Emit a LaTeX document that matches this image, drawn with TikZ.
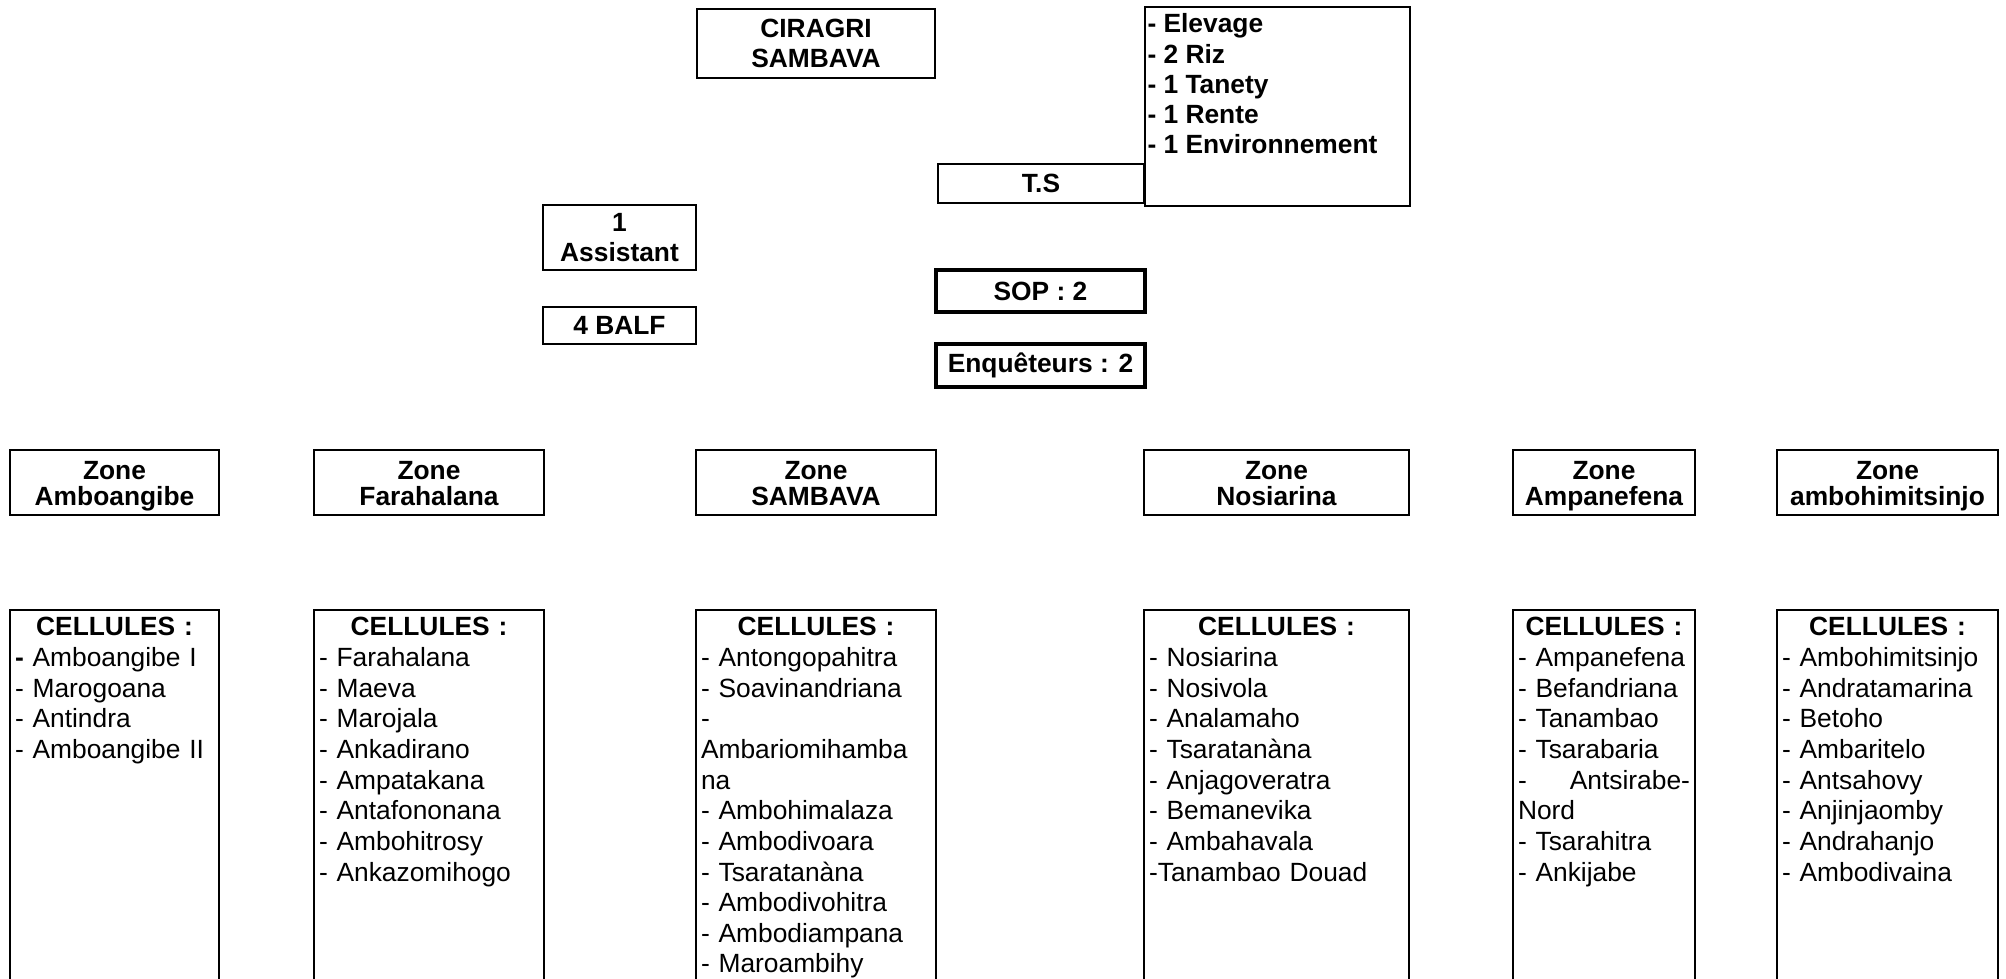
\documentclass[tikz,border=0pt]{standalone}
\usepackage{fontspec}
\setmainfont{Liberation Sans}
\usetikzlibrary{positioning}
% texte des zones, place comme dans l'original
\newcommand{\zonetxt}[1]{\rule{0pt}{0.53cm}Zone\\#1\rule[-0.11cm]{0pt}{0.11cm}}

\begin{document}
\begin{tikzpicture}[x=0.02cm, y=-0.02cm,
  blk/.style ={rectangle, draw, line width=0.04cm, inner sep=0.05cm,
               align=center, font=\bfseries\fontsize{15}{17.1}\selectfont},
  thk/.style ={blk, line width=0.09cm},
  zon/.style ={blk, minimum height=1.3cm, inner ysep=0pt,
               font=\bfseries\fontsize{15}{14.8}\selectfont},
  cel/.style ={anchor=north, align=left, inner xsep=0.1cm, inner ysep=0.14cm,
               font=\fontsize{15}{17.45}\selectfont},
  cfr/.style ={line width=0.04cm},
]
\useasboundingbox[fill=white] (0,0) rectangle (2006,979);
\coordinate (bot) at (0,979);

%% Haut : CIRAGRI et T.S
\node[blk, minimum width=4.76cm, minimum height=1.38cm]
      (cir) at (816,43.5) {CIRAGRI\\SAMBAVA};
\node[blk, minimum width=4.12cm, minimum height=0.78cm]
      (ts)  at (1041,183.5) {T.S};
\node[blk, anchor=north west, align=left]
      (tsl) at (1144,6) {\parbox[t][3.88cm][t]{5.2cm}{\rule{0pt}{0.47cm}- Elevage\\
        - 2 Riz\\- 1 Tanety\\- 1 Rente\\- 1 Environnement}};

\node[blk, minimum width=3.06cm, minimum height=1.3cm]
      (asst) at (619.5,237.5) {1\\Assistant};
\node[blk, minimum width=3.06cm, minimum height=0.74cm]
      (balf) at (619.5,325.5) {4 BALF};

\node[thk, minimum width=4.18cm, minimum height=0.84cm]
      (sop) at (1040.5,291) {SOP : 2};
\node[thk, minimum width=4.18cm, minimum height=0.86cm]
      (enq) at (1040.5,365.5) {Enquêteurs : 2};

%% Zones
\node[zon, minimum width=4.18cm] (zAmb)  at (114.5,482.5)  {\zonetxt{Amboangibe}};
\node[zon, minimum width=4.60cm] (zFar)  at (429,482.5)    {\zonetxt{Farahalana}};
\node[zon, minimum width=4.80cm] (zSam)  at (816,482.5)    {\zonetxt{SAMBAVA}};
\node[zon, minimum width=5.30cm] (zNos)  at (1276.5,482.5) {\zonetxt{Nosiarina}};
\node[zon, minimum width=3.64cm] (zAmp)  at (1604,482.5)   {\zonetxt{Ampanefena}};
\node[zon, minimum width=4.42cm] (zAmbo) at (1887.5,482.5) {\zonetxt{ambohimitsinjo}};

%% Cellules
\node[cel, text width=3.98cm] (cAmb) at (114.5,610) {%
  \hfill\textbf{CELLULES :}\hfill\null\\
  \textbf{-} Amboangibe I\\- Marogoana\\- Antindra\\- Amboangibe II};
\node[cel, text width=4.40cm] (cFar) at (429,610) {%
  \hfill\textbf{CELLULES :}\hfill\null\\
  - Farahalana\\- Maeva\\- Marojala\\- Ankadirano\\- Ampatakana\\
  - Antafononana\\- Ambohitrosy\\- Ankazomihogo};
\node[cel, text width=4.60cm] (cSam) at (816,610) {%
  \hfill\textbf{CELLULES :}\hfill\null\\
  - Antongopahitra\\- Soavinandriana\\-\\Ambariomihamba\\na\\
  - Ambohimalaza\\- Ambodivoara\\- Tsaratanàna\\- Ambodivohitra\\
  - Ambodiampana\\- Maroambihy};
\node[cel, text width=5.10cm] (cNos) at (1276.5,610) {%
  \hfill\textbf{CELLULES :}\hfill\null\\
  - Nosiarina\\- Nosivola\\- Analamaho\\- Tsaratanàna\\- Anjagoveratra\\
  - Bemanevika\\- Ambahavala\\-Tanambao Douad};
\node[cel, text width=3.44cm] (cAmp) at (1604,610) {%
  \hfill\textbf{CELLULES :}\hfill\null\\
  - Ampanefena\\- Befandriana\\- Tanambao\\- Tsarabaria\\
  -\hfill Antsirabe-\\Nord\\- Tsarahitra\\- Ankijabe};
\node[cel, text width=4.22cm] (cAmbo) at (1887.5,610) {%
  \hfill\textbf{CELLULES :}\hfill\null\\
  - Ambohimitsinjo\\- Andratamarina\\- Betoho\\- Ambaritelo\\
  - Antsahovy\\- Anjinjaomby\\- Andrahanjo\\- Ambodivaina};

% cadres ouverts en bas
\draw[cfr] (cAmb.north west |- bot) -- (cAmb.north west)
           -- (cAmb.north east) -- (cAmb.north east |- bot);
\draw[cfr] (cFar.north west |- bot) -- (cFar.north west)
           -- (cFar.north east) -- (cFar.north east |- bot);
\draw[cfr] (cSam.north west |- bot) -- (cSam.north west)
           -- (cSam.north east) -- (cSam.north east |- bot);
\draw[cfr] (cNos.north west |- bot) -- (cNos.north west)
           -- (cNos.north east) -- (cNos.north east |- bot);
\draw[cfr] (cAmp.north west |- bot) -- (cAmp.north west)
           -- (cAmp.north east) -- (cAmp.north east |- bot);
\draw[cfr] (cAmbo.north west |- bot) -- (cAmbo.north west)
           -- (cAmbo.north east) -- (cAmbo.north east |- bot);

\end{tikzpicture}
\end{document}
